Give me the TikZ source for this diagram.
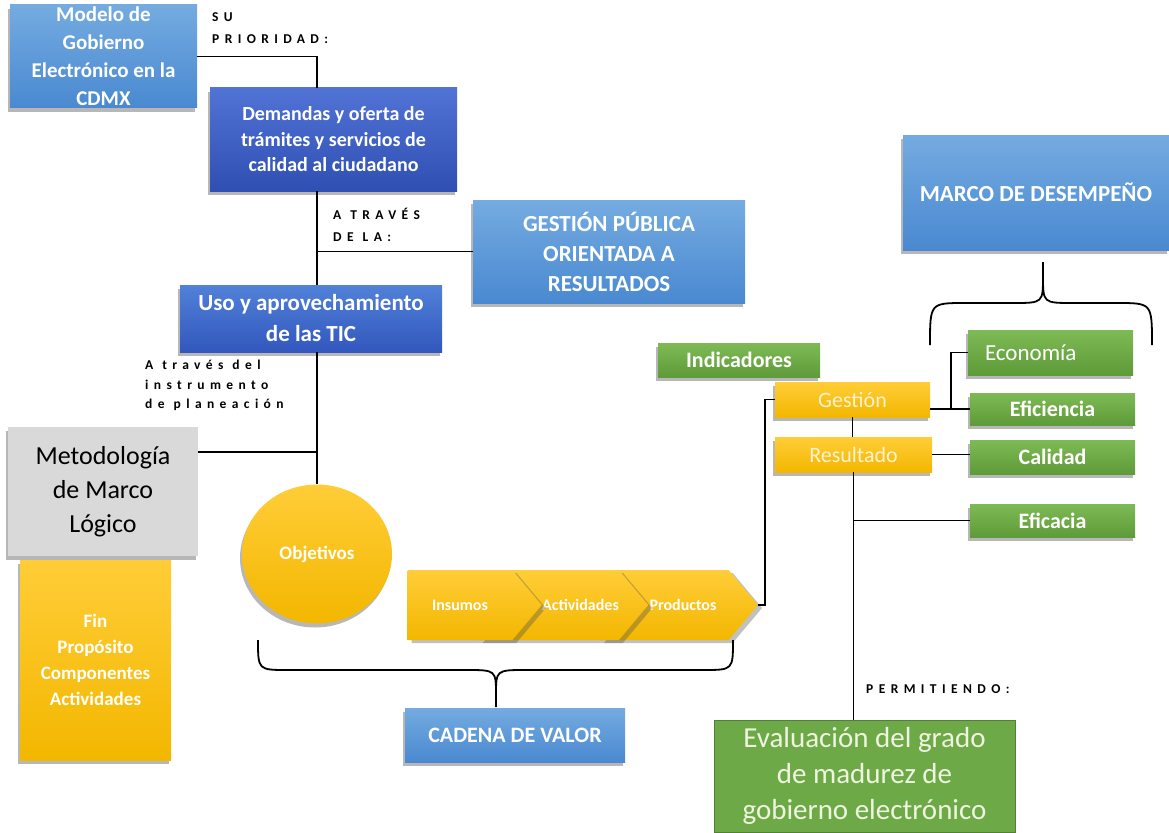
\documentclass[tikz,border=0pt]{standalone}
\usepackage{fontspec}
\setmainfont{Carlito}
\newfontfamily\spaced[LetterSpace=40]{Carlito}
\usetikzlibrary{shapes.geometric,shapes.symbols,shadows}
\newcommand{\fsz}[2]{\fontsize{#1}{#2}\selectfont}
\newcommand{\capsfont}[1]{\spaced\fsz{13.5}{#1}\bfseries}
\newcommand{\gap}{\hspace*{9pt}}
\definecolor{lbtop}{HTML}{74ABE0}
\definecolor{lbbot}{HTML}{4A89D1}
\definecolor{dbtop}{HTML}{5273D6}
\definecolor{dbbot}{HTML}{2F4FB2}
\definecolor{ubtop}{HTML}{5181D8}
\definecolor{ubbot}{HTML}{3257BD}
\definecolor{ytop}{HTML}{FFCD38}
\definecolor{ybot}{HTML}{F3B700}
\definecolor{gtop}{HTML}{7EBA54}
\definecolor{gbot}{HTML}{5E9B39}
\definecolor{grayfill}{HTML}{D9D9D9}
\definecolor{evalgreen}{HTML}{6DAA47}
\definecolor{evaltext}{HTML}{EEF4DF}
\definecolor{cream}{HTML}{FFF3CF}
\begin{document}
\begin{tikzpicture}[x=1pt, y=-1pt,
  conn/.style={line width=1.8pt, black},
  shad/.style={drop shadow={shadow xshift=-2pt, shadow yshift=-4pt, opacity=0.4, fill=black!70}},
  box/.style={shape=rectangle, inner sep=0pt, align=center, text=white},
  bluebox/.style={box, shad, top color=lbtop, bottom color=lbbot},
  navybox/.style={box, shad, top color=dbtop, bottom color=dbbot},
  goldbox/.style={box, shad, top color=ytop, bottom color=ybot},
  greenbox/.style={box, shad, top color=gtop, bottom color=gbot},
  chev/.style={shape=signal, signal to=east, signal pointer angle=100, minimum height=70pt, inner sep=0pt, top color=ytop, bottom color=ybot, text=white, drop shadow={shadow xshift=4pt, shadow yshift=-3pt, opacity=0.35, fill=black!70}, font=\fsz{16}{20}\bfseries},
  caps/.style={align=left, inner sep=0pt, anchor=north west, font=\capsfont{22}},
]
\useasboundingbox (0,0) rectangle (1169,832);

\node[bluebox, minimum width=187pt, minimum height=103pt, font=\fsz{21}{28}\bfseries] (modelo) at (103.5,56.5) {Modelo de\\Gobierno\\Electrónico en la\\CDMX};
\node[navybox, minimum width=247pt, minimum height=103pt, font=\fsz{20}{25.5}\bfseries] (demandas) at (333.5,139.5) {Demandas y oferta de\\trámites y servicios de\\calidad al ciudadano};
\node[bluebox, minimum width=272pt, minimum height=103pt, font=\fsz{23}{30}\bfseries] (gestionpub) at (609,251.5) {GESTIÓN PÚBLICA\\ORIENTADA A\\RESULTADOS};
\node[navybox, top color=ubtop, bottom color=ubbot, minimum width=262pt, minimum height=67pt, font=\fsz{23}{31}\bfseries] (uso) at (311,318.5) {Uso y aprovechamiento\\de las TIC};
\node[box, shad, fill=grayfill, text=black, minimum width=190pt, minimum height=129pt, font=\fsz{26}{34}] (metodologia) at (103,491.5) {Metodología\\de Marco\\Lógico};
\node[goldbox, minimum width=151pt, minimum height=200pt, font=\fsz{19}{26}\bfseries] (fin) at (95.5,660) {Fin\\Propósito\\Componentes\\Actividades};
\node[goldbox, shape=ellipse, minimum width=150pt, minimum height=139pt, font=\fsz{19}{22}\bfseries] (objetivos) at (317,554) {Objetivos};

\node[chev, signal from=west, minimum width=158pt] (productos) at (679,605) {\hspace*{8pt}Productos};
\node[chev, signal from=west, minimum width=133pt] (actividades) at (563.5,605) {\hspace*{34pt}Actividades};
\node[chev, signal from=nowhere, minimum width=134pt] (insumos) at (460,605) {Insumos};
\node[bluebox, minimum width=220pt, minimum height=54pt, font=\fsz{22}{26}\bfseries] (cadena) at (515,735) {CADENA DE VALOR};

\node[bluebox, minimum width=266pt, minimum height=115pt, font=\fsz{23}{28}\bfseries] (marco) at (1036,192.5) {MARCO DE DESEMPEÑO};
\node[greenbox, minimum width=162pt, minimum height=34pt, font=\fsz{22}{26}\bfseries] (indicadores) at (739,360) {Indicadores};
\node[goldbox, text=cream, minimum width=155pt, minimum height=35pt, font=\fsz{22}{26}] (gestion) at (852.5,399.5) {Gestión};
\node[goldbox, text=cream, minimum width=157pt, minimum height=35pt, font=\fsz{22}{26}] (resultado) at (853.5,454.5) {Resultado};
\node[greenbox, text width=131pt, align=left, inner xsep=17pt, minimum height=45pt, font=\fsz{23}{26}] (economia) at (1050.5,352.5) {Economía};
\node[greenbox, minimum width=165pt, minimum height=32pt, font=\fsz{22}{26}\bfseries] (eficiencia) at (1052.5,409) {Eficiencia};
\node[greenbox, minimum width=165pt, minimum height=34pt, font=\fsz{22}{26}\bfseries] (calidad) at (1052.5,457) {Calidad};
\node[greenbox, minimum width=165pt, minimum height=33pt, font=\fsz{22}{26}\bfseries] (eficacia) at (1052.5,520.5) {Eficacia};
\node[box, fill=evalgreen, draw=evalgreen!75!black, line width=0.8pt, text=evaltext, minimum width=301pt, minimum height=112pt, font=\fsz{29}{36}] (evaluacion) at (864.5,776) {Evaluación del grado\\de madurez de\\gobierno electrónico};

\node[caps] (prioridad) at (212,12) {SU\\PRIORIDAD:};
\node[caps] (atraves) at (333,208) {A\gap TRAVÉS\\DE\gap LA:};
\node[caps, font=\capsfont{19.5}] (instrumento) at (145,360) {A\gap través\gap del\\instrumento\\de\gap planeación};
\node[caps] (permitiendo) at (866,684) {PERMITIENDO:};

\coordinate (trunk) at (317,56.5);
\coordinate (metolink) at ([yshift=39.5pt]metodologia.east);
\draw[conn] (modelo.east) -- (trunk) -- (trunk |- demandas.north);
\draw[conn] (trunk |- demandas.south) -- (trunk |- uso.north);
\draw[conn] (trunk |- gestionpub.west) -- (gestionpub.west);
\draw[conn] (trunk |- uso.south) -- (objetivos.north);
\draw[conn] (metolink) -- (trunk |- metolink);
\draw[conn] (productos.east) -- ++(7,0) |- (gestion.west);
\draw[conn] (gestion.south) -- (gestion.south |- resultado.north);
\draw[conn] (resultado.south) -- (resultado.south |- evaluacion.north);
\draw[conn] (resultado.south |- eficacia.west) -- (eficacia.west);
\draw[conn] (resultado.east) -- (resultado.east -| calidad.west);
\draw[conn] (gestion.east |- eficiencia.west) -- (eficiencia.west);
\draw[conn] (eficiencia.west) ++(-19,0) |- (economia.west);

\draw[conn] (258,640) .. controls (258,670) .. (288,670) -- (466,670) .. controls (496,670) .. (496,695) -- (496,707);
\draw[conn] (733,640) .. controls (733,670) .. (703,670) -- (526,670) .. controls (496,670) .. (496,695);
\draw[conn] (930,345) .. controls (930,303) .. (965,303) -- (1013,303) .. controls (1043,303) .. (1043,276) -- (1043,262);
\draw[conn] (1152,345) .. controls (1152,303) .. (1117,303) -- (1073,303) .. controls (1043,303) .. (1043,276);
\end{tikzpicture}
\end{document}
